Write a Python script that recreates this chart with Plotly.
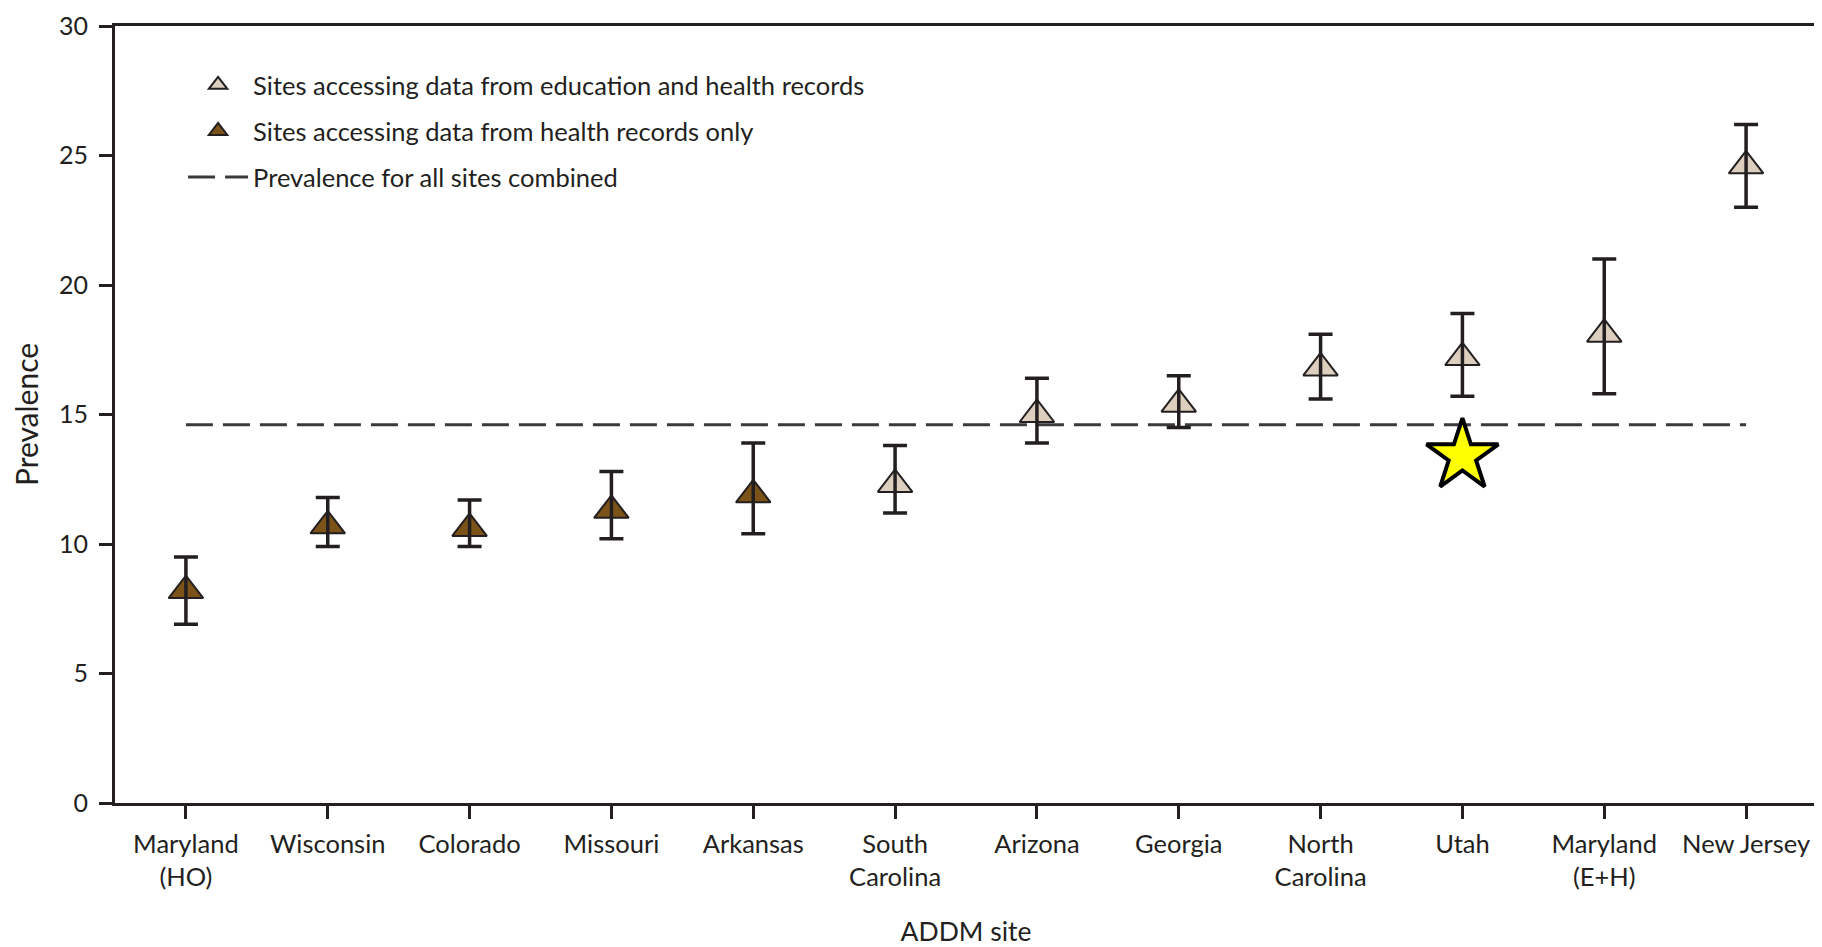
import plotly.graph_objects as go

sites = ["Maryland<br>(HO)", "Wisconsin", "Colorado", "Missouri", "Arkansas",
         "South<br>Carolina", "Arizona", "Georgia", "North<br>Carolina", "Utah",
         "Maryland<br>(E+H)", "New Jersey"]
prevalence = [8.2, 10.7, 10.6, 11.3, 11.9, 12.3, 15.0, 15.4, 16.8, 17.2, 18.1, 24.6]
ci_low = [6.9, 9.9, 9.9, 10.2, 10.4, 11.2, 13.9, 14.5, 15.6, 15.7, 15.8, 23.0]
ci_high = [9.5, 11.8, 11.7, 12.8, 13.9, 13.8, 16.4, 16.5, 18.1, 18.9, 21.0, 26.2]
record_type = ["health", "health", "health", "health", "health",
               "edu", "edu", "edu", "edu", "edu", "edu", "edu"]
overall = 14.6
star_site = "Utah"
star_value = 13.4

INK = "#231f20"
LIGHT = "#dccfbd"
DARK = "#7b5318"
FONT = "Lato"

edu_x = [s for s, t in zip(sites, record_type) if t == "edu"]
edu_y = [v for v, t in zip(prevalence, record_type) if t == "edu"]
hl_x = [s for s, t in zip(sites, record_type) if t == "health"]
hl_y = [v for v, t in zip(prevalence, record_type) if t == "health"]

fig = go.Figure()

fig.add_trace(go.Scatter(
    x=[sites[0], sites[-1]], y=[overall, overall], mode="lines",
    line=dict(color="#3a3a3a", width=3, dash="27px,10px"),
    name="Prevalence for all sites combined", legendrank=3, legendgroup="c",
    hoverinfo="skip"))

fig.add_trace(go.Scatter(
    x=edu_x, y=edu_y, mode="markers",
    marker=dict(symbol="triangle-up", size=30, color=LIGHT, line=dict(color=INK, width=2)),
    name="Sites accessing data from education and health records", legendrank=1,
    legendgroup="a"))

fig.add_trace(go.Scatter(
    x=hl_x, y=hl_y, mode="markers",
    marker=dict(symbol="triangle-up", size=30, color=DARK, line=dict(color=INK, width=2)),
    name="Sites accessing data from health records only", legendrank=2,
    legendgroup="b"))

fig.add_trace(go.Scatter(
    x=sites, y=prevalence, mode="markers",
    marker=dict(size=1, color="rgba(0,0,0,0)"),
    error_y=dict(type="data", symmetric=False,
                 array=[h - v for h, v in zip(ci_high, prevalence)],
                 arrayminus=[v - l for l, v in zip(ci_low, prevalence)],
                 color=INK, thickness=3.5, width=12),
    showlegend=False, hoverinfo="skip"))

fig.add_trace(go.Scatter(
    x=[star_site], y=[star_value], mode="markers",
    marker=dict(symbol="star", size=54, color="#ffff00", line=dict(color="#000000", width=4)),
    showlegend=False, hoverinfo="skip"))

fig.update_layout(
    width=1814, height=939,
    margin=dict(l=107, r=2, t=17, b=144),
    paper_bgcolor="white", plot_bgcolor="white",
    font=dict(family=FONT, size=25, color=INK),
    showlegend=True,
    legend=dict(x=0.04, y=0.954, xanchor="left", yanchor="top",
                bgcolor="rgba(0,0,0,0)", tracegroupgap=10, itemwidth=60,
                font=dict(family=FONT, size=25.5, color=INK)),
)

fig.update_xaxes(
    type="category", categoryorder="array", categoryarray=sites,
    range=[-0.5, 11.5],
    showline=True, linecolor=INK, linewidth=3, mirror=True,
    ticks="outside", ticklen=13, tickwidth=3, tickcolor=INK,
    showgrid=False, zeroline=False, ticklabelstandoff=3,
    tickfont=dict(family=FONT, size=25.5, color=INK),
    title=dict(text="ADDM site", font=dict(family=FONT, size=26.5, color=INK), standoff=34),
)
fig.update_yaxes(
    range=[0, 30], tickvals=[0, 5, 10, 15, 20, 25, 30],
    showline=True, linecolor=INK, linewidth=3, mirror=True,
    ticks="outside", ticklen=13, tickwidth=3, tickcolor=INK,
    showgrid=False, zeroline=False, ticklabelstandoff=6,
    tickfont=dict(family=FONT, size=25, color=INK),
    title=dict(text="Prevalence", font=dict(family=FONT, size=30, color=INK), standoff=24),
)

fig.write_html("out.html")
